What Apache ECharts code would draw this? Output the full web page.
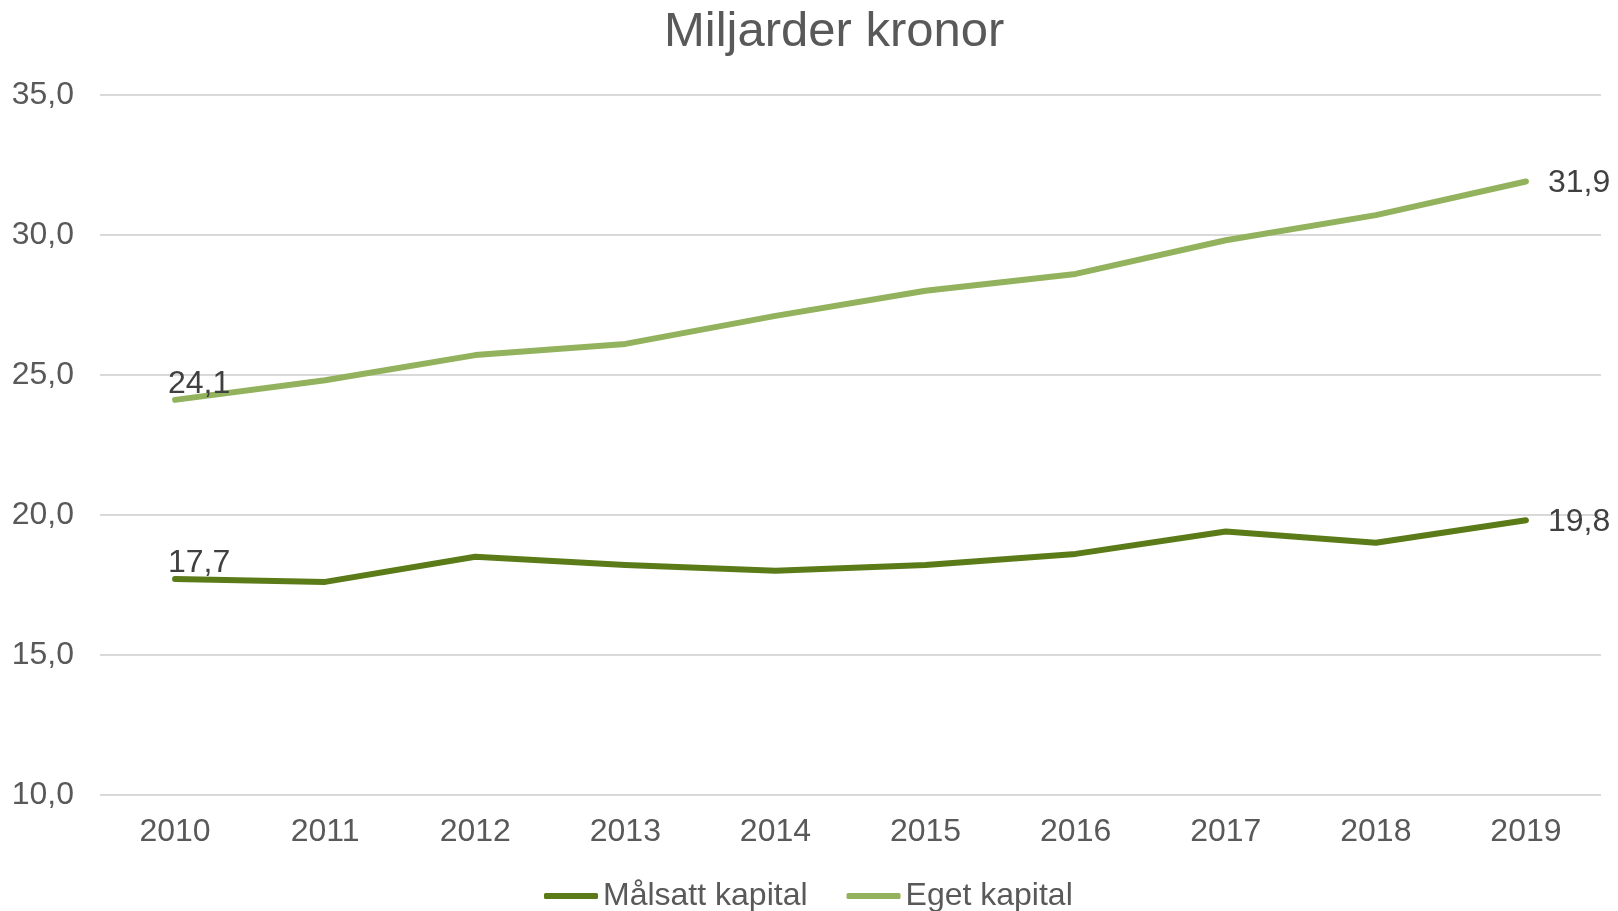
<!DOCTYPE html>
<html>
<head>
    <meta charset="utf-8">
    <title>Miljarder kronor</title>
    <script type="text/javascript" src="https://cdn.jsdelivr.net/npm/echarts@6/dist/echarts.min.js"></script>
    <style>
        html, body { margin: 0; padding: 0; background: #fff; }
    </style>
</head>
<body>
    <div id="main" style="width:1618px; height:911px;"></div>
    <script type="text/javascript">

    // data
    var years = ['2010', '2011', '2012', '2013', '2014', '2015', '2016', '2017', '2018', '2019'];
    var malsattKapital = [17.7, 17.6, 18.5, 18.2, 18.0, 18.2, 18.6, 19.4, 19.0, 19.8];
    var egetKapital = [24.1, 24.8, 25.7, 26.1, 27.1, 28.0, 28.6, 29.8, 30.7, 31.9];
    var seriesNames = ['Målsatt kapital', 'Eget kapital'];

    var fontFamily = '"Liberation Sans", Arial, sans-serif';

    function komma(v) {
        return v.toFixed(1).replace('.', ',');
    }

    // only first and last points carry a label
    function withLabels(values, firstOffset) {
        return values.map(function (v, i) {
            if (i === 0) {
                return {value: v, label: {show: true, position: 'top', distance: 3, offset: [firstOffset, 3]}};
            }
            if (i === values.length - 1) {
                return {value: v, label: {show: true, position: 'right', distance: 22, offset: [0, 2]}};
            }
            return v;
        });
    }

    var myChart = echarts.init(document.getElementById('main'));

    var option = {
        backgroundColor: '#fff',
        animation: false,
        color: ['#5B7B19', '#93B25D'],
        textStyle: {fontFamily: fontFamily},
        title: {
            text: 'Miljarder kronor',
            left: 659,
            top: 3,
            textStyle: {
                color: '#595959',
                fontSize: 49,
                fontWeight: 'normal',
                fontFamily: fontFamily
            }
        },
        legend: {
            left: 539,
            top: 875,
            itemWidth: 54,
            itemHeight: 6,
            itemGap: 39,
            icon: 'roundRect',
            data: seriesNames,
            textStyle: {
                color: '#595959',
                fontSize: 32,
                fontFamily: fontFamily
            }
        },
        grid: {
            left: 100,
            right: 17,
            top: 94.7,
            bottom: 116.3,
            containLabel: false
        },
        xAxis: {
            type: 'category',
            data: years,
            boundaryGap: true,
            axisLine: {show: false},
            axisTick: {show: false},
            axisLabel: {
                color: '#595959',
                fontSize: 32,
                fontFamily: fontFamily,
                margin: 21
            }
        },
        yAxis: {
            type: 'value',
            min: 10,
            max: 35,
            interval: 5,
            axisLine: {show: false},
            axisTick: {show: false},
            axisLabel: {
                color: '#595959',
                fontSize: 32,
                fontFamily: fontFamily,
                margin: 26,
                formatter: komma
            },
            splitLine: {
                lineStyle: {color: '#D9D9D9', width: 2}
            }
        },
        series: [
            {
                name: seriesNames[0],
                type: 'line',
                data: withLabels(malsattKapital, 24),
                symbol: 'circle',
                symbolSize: 0,
                lineStyle: {width: 6, cap: 'round', join: 'round'},
                label: {
                    color: '#404040',
                    fontSize: 32,
                    fontFamily: fontFamily,
                    formatter: function (p) { return komma(p.value); }
                }
            },
            {
                name: seriesNames[1],
                type: 'line',
                data: withLabels(egetKapital, 24),
                symbol: 'circle',
                symbolSize: 0,
                lineStyle: {width: 6, cap: 'round', join: 'round'},
                label: {
                    color: '#404040',
                    fontSize: 32,
                    fontFamily: fontFamily,
                    formatter: function (p) { return komma(p.value); }
                }
            }
        ]
    };

    myChart.setOption(option);
    </script>
</body>
</html>
